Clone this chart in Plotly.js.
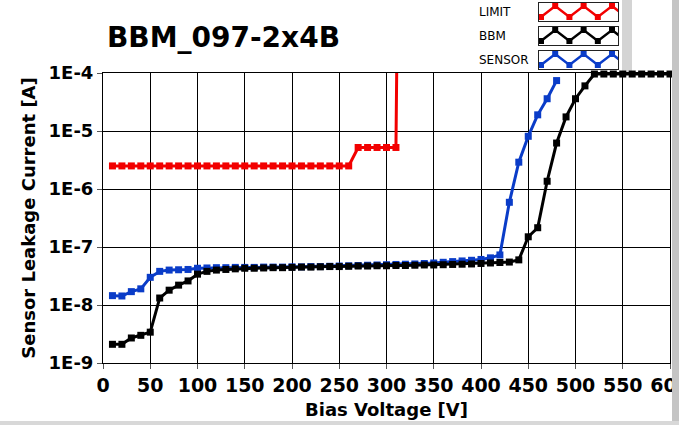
<!DOCTYPE html>
<html>
<head>
<meta charset="utf-8">
<script src="https://cdn.plot.ly/plotly-3.0.1.min.js"></script>
<style>
  html, body { margin: 0; padding: 0; background: #ffffff; }
  #chart { width: 679px; height: 425px; }
</style>
</head>
<body>
<div id="chart"></div>
<script>
// ---------------- data ----------------
const chartTitle = "BBM_097-2x4B";
const xAxisTitle = "Bias Voltage [V]";
const yAxisTitle = "Sensor Leakage Current [A]";

const limitName = "LIMIT";
const bbmName = "BBM";
const sensorName = "SENSOR";

const limitV = [10,20,30,40,50,60,70,80,90,100,110,120,130,140,150,160,170,180,190,200,210,220,230,240,250,260,
                270,280,290,300,310,312];
const limitI = [2.5e-6,2.5e-6,2.5e-6,2.5e-6,2.5e-6,2.5e-6,2.5e-6,2.5e-6,2.5e-6,2.5e-6,2.5e-6,2.5e-6,2.5e-6,
                2.5e-6,2.5e-6,2.5e-6,2.5e-6,2.5e-6,2.5e-6,2.5e-6,2.5e-6,2.5e-6,2.5e-6,2.5e-6,2.5e-6,2.5e-6,
                5.2e-6,5.2e-6,5.2e-6,5.2e-6,5.2e-6,1e-2];

const bbmV = [10,20,30,40,50,60,70,80,90,100,110,120,130,140,150,160,170,180,190,200,
              210,220,230,240,250,260,270,280,290,300,310,320,330,340,350,360,370,380,390,400,
              410,420,430,440,450,460,470,480,490,500,510,520,530,540,550,560,570,580,590,600];
const bbmI = [2.1e-9,2.1e-9,2.7e-9,3.0e-9,3.4e-9,1.32e-8,1.8e-8,2.2e-8,2.6e-8,3.4e-8,
              3.8e-8,4.0e-8,4.1e-8,4.2e-8,4.3e-8,4.3e-8,4.35e-8,4.4e-8,4.4e-8,4.45e-8,
              4.5e-8,4.5e-8,4.55e-8,4.6e-8,4.6e-8,4.65e-8,4.7e-8,4.7e-8,4.75e-8,4.75e-8,
              4.8e-8,4.8e-8,4.85e-8,4.9e-8,4.9e-8,4.95e-8,5.0e-8,5.05e-8,5.1e-8,5.2e-8,
              5.3e-8,5.4e-8,5.5e-8,6.0e-8,1.5e-7,2.15e-7,1.36e-6,6.2e-6,1.75e-5,3.6e-5,
              6.0e-5,9.6e-5,9.6e-5,9.6e-5,9.6e-5,9.6e-5,9.6e-5,9.6e-5,9.6e-5,9.6e-5];

const sensorV = [10,20,30,40,50,60,70,80,90,100,110,120,130,140,150,160,170,180,190,200,
                 210,220,230,240,250,260,270,280,290,300,310,320,330,340,350,360,370,380,390,400,
                 410,420,430,440,450,460,470,480];
const sensorI = [1.45e-8,1.43e-8,1.7e-8,1.9e-8,3.0e-8,3.8e-8,4.0e-8,4.05e-8,4.1e-8,4.3e-8,
                 4.35e-8,4.4e-8,4.4e-8,4.45e-8,4.45e-8,4.45e-8,4.5e-8,4.5e-8,4.5e-8,4.55e-8,
                 4.55e-8,4.6e-8,4.6e-8,4.65e-8,4.7e-8,4.75e-8,4.8e-8,4.85e-8,4.9e-8,4.95e-8,
                 5.0e-8,5.05e-8,5.1e-8,5.2e-8,5.3e-8,5.45e-8,5.6e-8,5.75e-8,5.9e-8,6.1e-8,
                 6.5e-8,7.3e-8,5.9e-7,2.9e-6,8.1e-6,1.9e-5,3.6e-5,7.4e-5];

const xTickVals = [0,50,100,150,200,250,300,350,400,450,500,550,600];
const yTickVals = [1e-9,1e-8,1e-7,1e-6,1e-5,1e-4];
const yTickText = ["1E-9","1E-8","1E-7","1E-6","1E-5","1E-4"];

// legend sample zig-zag (swatch drawn in each legend box)
const legendSampleX = [0,1,2,3,4,5,6];
const legendSampleY = [0,1,0,1,0,1,0];

// ---------------- styling ----------------
const colLimit = "#f20000";
const colBbm = "#000000";
const colSensor = "#0a3cc8";
const FONT = "DejaVu Sans, Verdana, sans-serif";

// geometry (px) of the page
const W = 679, H = 425;
const L = 103, R = 9, T = 0, B = 62;
const pw = W - L - R, ph = H - T - B;
const plotTop = 73;                       // top of main plot area in px
const px2x = p => (p - L) / pw;
const px2y = p => (H - B - p) / ph;

function line(color, width) { return {color: color, width: width}; }
function mk(color, size) { return {color: color, size: size, symbol: "square"}; }

const traces = [
  {x: limitV, y: limitI, name: limitName, type: "scatter", mode: "lines+markers",
   line: line(colLimit, 3), marker: mk(colLimit, 7), showlegend: false, xaxis: "x", yaxis: "y"},
  {x: sensorV, y: sensorI, name: sensorName, type: "scatter", mode: "lines+markers",
   line: line(colSensor, 3), marker: mk(colSensor, 7), showlegend: false, xaxis: "x", yaxis: "y"},
  {x: bbmV, y: bbmI, name: bbmName, type: "scatter", mode: "lines+markers", cliponaxis: false,
   line: line(colBbm, 3), marker: mk(colBbm, 7), showlegend: false, xaxis: "x", yaxis: "y"}
];

// legend swatches
const legendItems = [
  {name: limitName, color: colLimit, top: 3, bottom: 21, ax: 2},
  {name: bbmName, color: colBbm, top: 27, bottom: 45, ax: 3},
  {name: sensorName, color: colSensor, top: 51, bottom: 69, ax: 4}
];
const boxLeft = 539, boxRight = 618;

const layout = {
  width: W, height: H,
  margin: {l: L, r: R, t: T, b: B, pad: 0},
  paper_bgcolor: "#ffffff",
  plot_bgcolor: "#ffffff",
  showlegend: false,
  font: {family: FONT, color: "#000000"},
  title: {
    text: chartTitle,
    font: {family: FONT, size: 28, color: "#000000", weight: "bold"},
    xref: "container", yref: "container",
    x: 107 / W, xanchor: "left",
    y: 1 - 37 / H, yanchor: "middle"
  },
  xaxis: {
    domain: [0, 1],
    range: [0, 600],
    tickvals: xTickVals,
    ticks: "outside", ticklen: 5, tickcolor: "#555555", tickwidth: 1,
    ticklabeloverflow: "allow",
    tickfont: {family: FONT, size: 19, color: "#000000", weight: "bold"},
    showgrid: true, gridcolor: "#000000", gridwidth: 1,
    showline: true, linecolor: "#000000", linewidth: 1, mirror: true,
    zeroline: false,
    title: {text: xAxisTitle, font: {family: FONT, size: 18, color: "#000000", weight: "bold"}, standoff: 8},
    fixedrange: true
  },
  yaxis: {
    type: "log",
    domain: [0, (H - B - plotTop) / ph],
    range: [-9, -4],
    tickvals: yTickVals, ticktext: yTickText,
    ticks: "outside", ticklen: 5, tickcolor: "#555555", tickwidth: 1,
    tickfont: {family: FONT, size: 18, color: "#000000", weight: "bold"},
    showgrid: true, gridcolor: "#000000", gridwidth: 1,
    showline: true, linecolor: "#000000", linewidth: 1, mirror: true,
    zeroline: false,
    title: {text: yAxisTitle, font: {family: FONT, size: 18, color: "#000000", weight: "bold"}, standoff: 8},
    fixedrange: true
  },
  annotations: [],
  shapes: [
    // legend panel shadow strip
    {type: "rect", xref: "paper", yref: "paper", layer: "below",
     x0: px2x(622), x1: px2x(632), y0: px2y(72), y1: px2y(0),
     fillcolor: "#d4d4d4", line: {width: 0}},
    // right panel edge
    {type: "rect", xref: "paper", yref: "paper", layer: "above",
     x0: px2x(672), x1: px2x(679), y0: px2y(425), y1: px2y(0),
     fillcolor: "#c4c4c4", line: {width: 0}},
    // bottom panel edge
    {type: "rect", xref: "paper", yref: "paper", layer: "above",
     x0: px2x(0), x1: px2x(679), y0: px2y(425), y1: px2y(421),
     fillcolor: "#d8d8d8", line: {width: 0}}
  ]
};

legendItems.forEach(it => {
  const xa = "xaxis" + it.ax, ya = "yaxis" + it.ax;
  layout[xa] = {
    domain: [px2x(boxLeft), px2x(boxRight)],
    range: [-0.14, 5.42], anchor: "y" + it.ax,
    showgrid: false, zeroline: false, showticklabels: false, ticks: "",
    showline: true, mirror: true, linecolor: "#222222", linewidth: 1, fixedrange: true
  };
  layout[ya] = {
    domain: [px2y(it.bottom), px2y(it.top)],
    range: [-0.36, 1.27], anchor: "x" + it.ax,
    showgrid: false, zeroline: false, showticklabels: false, ticks: "",
    showline: true, mirror: true, linecolor: "#222222", linewidth: 1, fixedrange: true
  };
  traces.push({
    x: legendSampleX, y: legendSampleY, name: it.name, type: "scatter", mode: "lines+markers",
    line: line(it.color, 2.5), marker: mk(it.color, 6), showlegend: false,
    xaxis: "x" + it.ax, yaxis: "y" + it.ax, hoverinfo: "skip"
  });
  layout.annotations.push({
    text: it.name, xref: "paper", yref: "paper",
    x: px2x(477), xanchor: "left",
    y: px2y((it.top + it.bottom) / 2), yanchor: "middle",
    showarrow: false,
    font: {family: FONT, size: 12, color: "#000000"}
  });
});

Plotly.newPlot("chart", traces, layout, {staticPlot: true, displayModeBar: false});
</script>
</body>
</html>
